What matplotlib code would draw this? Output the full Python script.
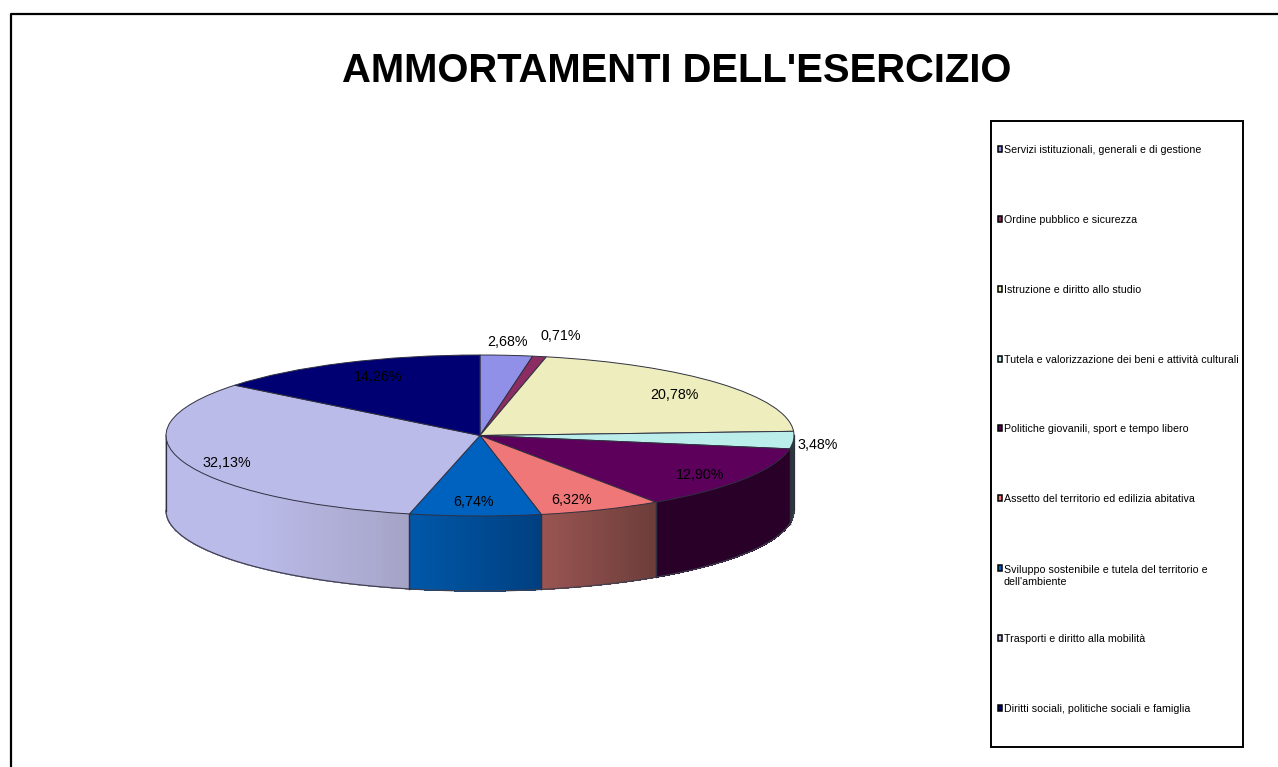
import numpy as np
import matplotlib
matplotlib.use("Agg")
import matplotlib.pyplot as plt
from matplotlib.colors import to_rgb
from matplotlib.patches import Rectangle

W, H = 1278, 767
plt.rcParams['font.family'] = ['Liberation Sans', 'DejaVu Sans']

title = "AMMORTAMENTI DELL'ESERCIZIO"
categories = ["Servizi istituzionali, generali e di gestione",
              "Ordine pubblico e sicurezza",
              "Istruzione e diritto allo studio",
              "Tutela e valorizzazione dei beni e attività culturali",
              "Politiche giovanili, sport e tempo libero",
              "Assetto del territorio ed edilizia abitativa",
              "Sviluppo sostenibile e tutela del territorio e\ndell'ambiente",
              "Trasporti e diritto alla mobilità",
              "Diritti sociali, politiche sociali e famiglia"]
values = [2.68, 0.71, 20.78, 3.48, 12.90, 6.32, 6.74, 32.13, 14.26]
value_labels = ["2,68%", "0,71%", "20,78%", "3,48%", "12,90%", "6,32%", "6,74%", "32,13%", "14,26%"]
top_colors = ["#9090E8", "#8B2D62", "#EDEDBE", "#BBEDEB", "#5C005C", "#EF7777", "#0062BF", "#BBBBEA", "#000073"]
side_left = ["#9090E8", "#8B2D62", "#EDEDBE", "#2A3A3A", "#280028", "#9A5552", "#0058A8", "#BBBBEA", "#000073"]
side_right = ["#9090E8", "#8B2D62", "#EDEDBE", "#2A3A3A", "#280028", "#6C3D3A", "#003F80", "#A5A3C6", "#000073"]
label_px = [(507, 342), (561, 336), (674, 395), (818, 445), (700, 475),
            (572, 500), (474, 502), (227, 463), (378, 377)]
legend_y = [149, 219, 289, 359, 428, 498, 575, 638, 708]

fig = plt.figure(figsize=(W / 100, H / 100), dpi=100, facecolor="white")
px = lambda x0, y0, x1, y1: [x0 / W, 1 - y1 / H, (x1 - x0) / W, (y1 - y0) / H]

# Frame: the right and bottom sides run off the picture
bg = fig.add_axes([0, 0, 1, 1], xlim=(0, W), ylim=(H, 0), zorder=0)
bg.axis("off")
bg.plot([11, 11, W + 5], [H + 5, 14, 14], color="black", lw=1.6)
bg.text(677, 71, title, ha="center", va="center", fontsize=28.8, fontweight="bold", color="black")

# Pie: unit circle squashed to the ellipse of the tilted top
cx, cy, rx, ry, depth = 480, 435.5, 314, 80.5, 75
pad = 6
ax = fig.add_axes(px(cx - rx - pad, cy - ry - pad, cx + rx + pad, cy + ry + depth + pad), zorder=1)
ax.pie(values, colors=top_colors, startangle=90, counterclock=False, radius=1,
       wedgeprops=dict(edgecolor="#303040", linewidth=0.7, zorder=5))
ax.set_aspect("auto")
d = depth / ry
ax.set_xlim(-1 - pad / rx, 1 + pad / rx)
ax.set_ylim(-1 - d - pad / ry, 1 + pad / ry)
ax.axis("off")

# Side wall, shaded strip by strip
edges = np.concatenate([[0], np.cumsum(values)]) / sum(values) * 360
for i in range(len(values)):
    a, b = max(edges[i], 90), min(edges[i + 1], 270)
    if a >= b:
        continue
    th = np.radians(np.linspace(a, b, 60))
    xs, ys = np.sin(th), np.cos(th)
    left, right = np.array(to_rgb(side_left[i])), np.array(to_rgb(side_right[i]))
    xl, xr = xs.min(), xs.max()
    for k in range(len(th) - 1):
        t = (0.5 * (xs[k] + xs[k + 1]) - xl) / (xr - xl)
        if i == 7:
            t = max(0, (t - 0.35) / 0.65)
        col = left + (right - left) * t
        ax.fill([xs[k], xs[k + 1], xs[k + 1], xs[k]],
                [ys[k], ys[k + 1], ys[k + 1] - d, ys[k] - d],
                facecolor=col, edgecolor=col, lw=0.4, antialiased=False, zorder=2)
    ax.plot(xs, ys - d, color="#404050", lw=0.9, zorder=3)
    ax.plot([xs[0], xs[0]], [ys[0], ys[0] - d], color="#303040", lw=0.9, zorder=3)
    ax.plot([xs[-1], xs[-1]], [ys[-1], ys[-1] - d], color="#303040", lw=0.9, zorder=3)

# Value labels and legend sit above the pie
top = fig.add_axes([0, 0, 1, 1], xlim=(0, W), ylim=(H, 0), zorder=3)
top.axis("off")
top.patch.set_alpha(0)
for lab, (x, y) in zip(value_labels, label_px):
    top.text(x, y, lab, ha="center", va="center", fontsize=10.3, color="black")

top.add_patch(Rectangle((991, 121), 252, 626, fc="white", ec="black", lw=1.4))
for y, name, col in zip(legend_y, categories, top_colors):
    my = y - 7 if "\n" in name else y
    top.add_patch(Rectangle((997.6, my - 2.8), 4.2, 5.6, fc=col, ec="black", lw=1.1))
    top.text(1004, y + 1, name, ha="left", va="center", fontsize=7.65, color="black", linespacing=1.3)

fig.savefig("out.png", dpi=100, facecolor="white")
